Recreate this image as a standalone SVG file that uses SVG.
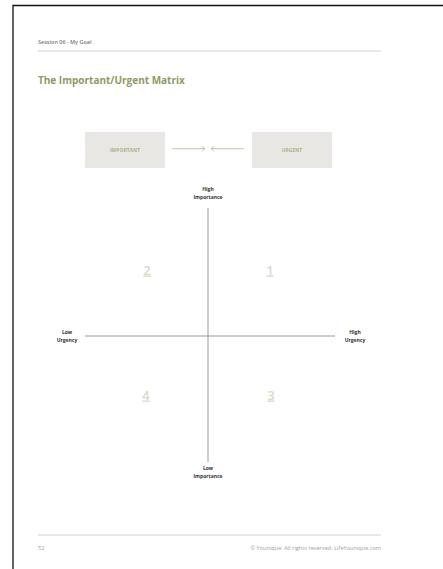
<svg xmlns="http://www.w3.org/2000/svg" width="443" height="569" viewBox="0 0 443 569">
<style>
text{font-family:"Open Sans","Noto Sans","Liberation Sans",sans-serif}
.hdr{font-size:5.5px;font-weight:600;fill:#7a7a7a}
.title{font-size:10px;font-weight:bold;fill:#8e9a66}
.box{fill:#e9e7e4}
.btxt{font-size:5px;font-weight:bold;fill:#adb38c;text-anchor:middle}
.lbl{font-size:5px;font-weight:bold;fill:#333;text-anchor:middle}
.num{font-size:13px;font-weight:600;fill:#d9dac8;text-anchor:middle;text-decoration:underline}
.rule{stroke:#d0d0d0;stroke-width:1}
.axis{stroke:#9a9a9a;stroke-width:1}
.arr{stroke:#c4c8a8;stroke-width:1;fill:none}
.foot{font-size:5.6px;fill:#a0a0a0}
</style>
<rect width="443" height="569" fill="#fff"/>
<path d="M13 569V5.5H443" stroke="#111" stroke-width="1.3" fill="none"/>
<text class="hdr" x="38" y="44">Session 06  ·  My Goal</text>
<line class="rule" x1="38" y1="51" x2="381" y2="51"/>
<text class="title" x="38" y="84">The Important/Urgent Matrix</text>
<g id="important"><rect class="box" x="85" y="132" width="80" height="36"/><text class="btxt" x="125" y="151.5">IMPORTANT</text></g>
<g id="urgent"><rect class="box" x="252" y="132" width="80" height="36"/><text class="btxt" x="292" y="151.5">URGENT</text></g>
<g id="connectors">
<path class="arr" d="M172 148.7H205M202 146.5L205 148.7L202 151"/>
<path class="arr" d="M244 148.7H211M214 146.5L211 148.7L214 151"/>
<line class="axis" x1="208" y1="208" x2="208" y2="462"/>
<line class="axis" x1="85" y1="336" x2="335" y2="336"/>
</g>
<g id="high-importance"><text class="lbl" x="208" y="191">High</text><text class="lbl" x="208" y="199">Importance</text></g>
<g id="low-importance"><text class="lbl" x="208" y="470">Low</text><text class="lbl" x="208" y="478">Importance</text></g>
<g id="low-urgency"><text class="lbl" x="67" y="333.5">Low</text><text class="lbl" x="67" y="341.5">Urgency</text></g>
<g id="high-urgency"><text class="lbl" x="355" y="333.5">High</text><text class="lbl" x="355" y="341.5">Urgency</text></g>
<g id="q2"><text class="num" x="147" y="274.5">2</text></g>
<g id="q1"><text class="num" x="270" y="274.5">1</text></g>
<g id="q4"><text class="num" x="146" y="399.5">4</text></g>
<g id="q3"><text class="num" x="271" y="399.5">3</text></g>
<line class="rule" x1="38" y1="535" x2="381" y2="535"/>
<text class="foot" x="38" y="550">52</text>
<text class="foot" x="381" y="550" text-anchor="end">© Younique. All rights reserved. LifeYounique.com</text>
</svg>
